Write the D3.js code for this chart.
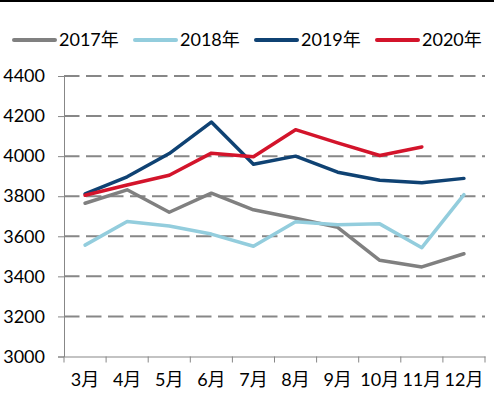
<!DOCTYPE html>
<html>
<head>
<meta charset="utf-8">
<script src="https://cdn.jsdelivr.net/npm/d3@7"></script>
<style>
  html, body { margin: 0; padding: 0; background: #fff; }
  svg { display: block; }
  text { font-family: Lato, "Noto Sans CJK SC", sans-serif; fill: #000; }
</style>
</head>
<body>
<svg id="chart" width="494" height="415"></svg>
<script>
const categories = ["3月","4月","5月","6月","7月","8月","9月","10月","11月","12月"];
const seriesNames = ["2017年","2018年","2019年","2020年"];
const values2017 = [3765, 3832, 3720, 3815, 3732, 3690, 3645, 3480, 3447, 3513];
const values2018 = [3556, 3674, 3651, 3611, 3550, 3672, 3658, 3662, 3543, 3808];
const values2019 = [3812, 3897, 4013, 4170, 3960, 4000, 3920, 3880, 3867, 3889];
const values2020 = [3805, 3856, 3905, 4015, 3997, 4132, 4066, 4003, 4046, null];
const yTicks = [3000, 3200, 3400, 3600, 3800, 4000, 4200, 4400];
const colors = ["#808080", "#93cddd", "#0f4273", "#d3142b"];

const series = [values2017, values2018, values2019, values2020].map((v, i) => ({
  name: seriesNames[i], color: colors[i], values: v
}));

const svg = d3.select("#chart");
const mLeft = 64, mRight = 485, mTop = 76, mBottom = 356.5;

// top border line
svg.append("rect").attr("x", 0).attr("y", 0).attr("width", 494).attr("height", 2).attr("fill", "#000");

const x = d3.scaleBand().domain(categories).range([mLeft, mRight]);
const y = d3.scaleLinear().domain([3000, 4400]).range([mBottom, mTop]);

// gridlines
svg.append("g").selectAll("line").data(yTicks.filter(t => t > 3000)).join("line")
  .attr("x1", mLeft).attr("x2", mRight)
  .attr("y1", d => y(d)).attr("y2", d => y(d))
  .attr("stroke", "#878787").attr("stroke-width", 2)
  .attr("stroke-dasharray", "15.5,6.5");

// y axis
const yAxis = d3.axisLeft(y).tickValues(yTicks).tickSize(6).tickPadding(13).tickFormat(d3.format("d"));
const gy = svg.append("g").attr("transform", `translate(${mLeft},0)`).call(yAxis);
gy.select(".domain").attr("stroke", "#878787").attr("stroke-width", 1);
gy.selectAll(".tick line").attr("stroke", "#878787");
gy.selectAll(".tick text").attr("font-size", 18).attr("font-family", "Lato, 'Noto Sans CJK SC', sans-serif").attr("fill", "#000");

// x axis
const xAxis = d3.axisBottom(x).tickSize(0).tickPadding(17);
const gx = svg.append("g").attr("transform", `translate(0,${mBottom})`).call(xAxis);
gx.select(".domain").attr("stroke", "#878787").attr("stroke-width", 1);
gx.selectAll(".tick text").attr("font-size", 18).attr("font-family", "Lato, 'Noto Sans CJK SC', sans-serif").attr("fill", "#000");
// band boundary ticks
const bounds = categories.map(c => x(c)).concat([mRight]);
svg.append("g").selectAll("line").data(bounds).join("line")
  .attr("x1", d => d).attr("x2", d => d)
  .attr("y1", mBottom).attr("y2", mBottom + 6)
  .attr("stroke", "#878787").attr("stroke-width", 1);

// lines
const line = d3.line()
  .defined(d => d.v != null)
  .x(d => x(d.c) + x.bandwidth() / 2)
  .y(d => y(d.v));

svg.append("g").selectAll("path").data(series).join("path")
  .attr("d", s => line(s.values.map((v, i) => ({ c: categories[i], v }))))
  .attr("fill", "none")
  .attr("stroke", s => s.color)
  .attr("stroke-width", 3.5)
  .attr("stroke-linejoin", "round")
  .attr("stroke-linecap", "round");

// legend
const lg = svg.append("g").selectAll("g").data(series).join("g")
  .attr("transform", (d, i) => `translate(${14 + i * 121},40)`);
lg.append("line").attr("x1", 0).attr("x2", 41).attr("y1", 0).attr("y2", 0)
  .attr("stroke", d => d.color).attr("stroke-width", 4).attr("stroke-linecap", "round");
lg.append("text").attr("x", 45).attr("y", 0).attr("dy", "0.35em")
  .attr("font-size", 18).text(d => d.name);
</script>
</body>
</html>
